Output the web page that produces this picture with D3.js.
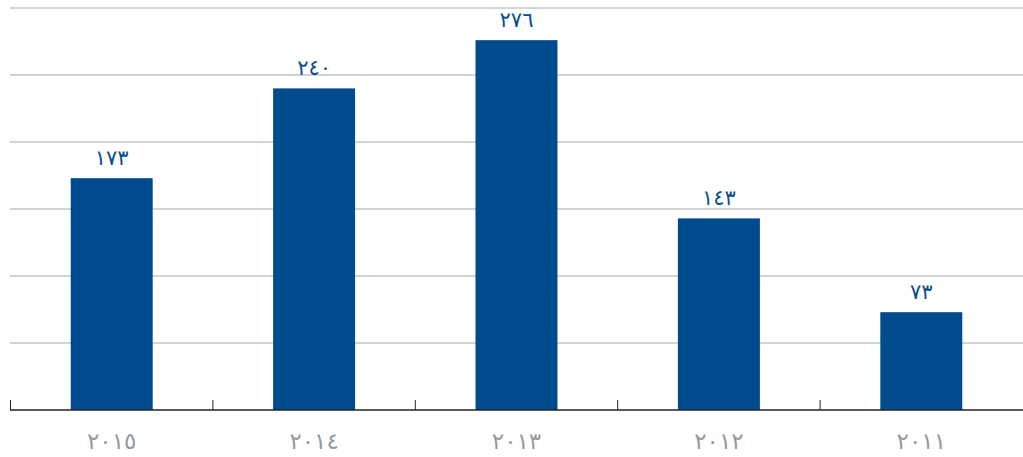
<!DOCTYPE html>
<html>
<head>
<meta charset="utf-8">
<script src="https://cdn.jsdelivr.net/npm/d3@7"></script>
<style>
  body { margin: 0; background: #fff; }
  svg { display: block; }
</style>
</head>
<body>
<div id="chart"></div>
<script>
// data
var years = ["٢٠١٥", "٢٠١٤", "٢٠١٣", "٢٠١٢", "٢٠١١"];
var values = [173, 240, 276, 143, 73];
var valueLabels = ["١٧٣", "٢٤٠", "٢٧٦", "١٤٣", "٧٣"];
var gridTicks = [0, 50, 100, 150, 200, 250, 300];

var width = 1023, height = 457;
var left = 10, right = 1023, baseY = 410;

var svg = d3.select("#chart").append("svg")
  .attr("width", width)
  .attr("height", height);

var x = d3.scaleBand()
  .domain(years)
  .range([left, right])
  .paddingInner(0.595)
  .paddingOuter(0.3);

var y = d3.scaleLinear()
  .domain([0, 300])
  .range([baseY, 8]);

// gridlines
svg.append("g")
  .selectAll("line")
  .data(gridTicks.slice(1))
  .enter().append("line")
  .attr("x1", left).attr("x2", right)
  .attr("y1", d => y(d)).attr("y2", d => y(d))
  .attr("stroke", "#c3c7ca")
  .attr("stroke-width", 1.5);

// bars
svg.append("g")
  .selectAll("rect")
  .data(values)
  .enter().append("rect")
  .attr("x", (d, i) => x(years[i]))
  .attr("y", d => y(d))
  .attr("width", x.bandwidth())
  .attr("height", d => baseY - y(d))
  .attr("fill", "#004b8d");

// value labels
svg.append("g")
  .selectAll("text")
  .data(values)
  .enter().append("text")
  .attr("x", (d, i) => x(years[i]) + x.bandwidth() / 2)
  .attr("y", d => y(d) - 13)
  .attr("text-anchor", "middle")
  .attr("fill", "#0a4f8f")
  .style("font-family", "DejaVu Sans, sans-serif")
  .style("font-size", "21px")
  .text((d, i) => valueLabels[i]);

// x axis line + tick marks at band boundaries
svg.append("line")
  .attr("x1", left).attr("x2", right)
  .attr("y1", baseY).attr("y2", baseY)
  .attr("stroke", "#222")
  .attr("stroke-width", 1.5);

var step = x.step();
svg.append("g")
  .selectAll("line")
  .data(years)
  .enter().append("line")
  .attr("x1", d => x(d) - step * 0.3 + 0.5)
  .attr("x2", d => x(d) - step * 0.3 + 0.5)
  .attr("y1", baseY - 10).attr("y2", baseY)
  .attr("stroke", "#222")
  .attr("stroke-width", 1);

// category labels
svg.append("g")
  .selectAll("text")
  .data(years)
  .enter().append("text")
  .attr("x", d => x(d) + x.bandwidth() / 2)
  .attr("y", 449)
  .attr("text-anchor", "middle")
  .attr("fill", "#959a9e")
  .style("font-family", "DejaVu Sans, sans-serif")
  .style("font-size", "23px")
  .text(d => d);
</script>
</body>
</html>
